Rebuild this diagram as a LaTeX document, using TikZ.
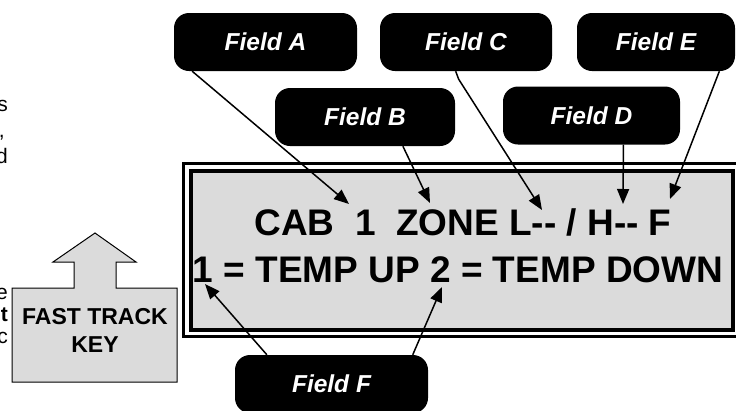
\documentclass[tikz,border=0pt]{standalone}
\usepackage{fontspec}
\setmainfont{Liberation Sans}
\usetikzlibrary{arrows.meta,calc}

\tikzset{
  field/.style={fill=black, rounded corners=15pt, text=white, minimum height=58pt,
    inner sep=0pt, font=\fontsize{24.5}{24.5}\selectfont\bfseries\itshape},
  lcdtext/.style={anchor=base, inner sep=0pt, font=\fontsize{37}{37}\selectfont\bfseries},
  frag/.style={anchor=base east, inner sep=0pt, font=\fontsize{21}{21}\selectfont},
  ptr/.style={-{Triangle[length=15pt,width=12pt]}, line width=1.5pt},
}

\begin{document}
\begin{tikzpicture}[x=1pt, y=-1pt]
    \useasboundingbox (0,0) rectangle (736,410);
    \clip (0,0) rectangle (736,410);

    % 左侧残留文字
    \node[frag] (s1) at (8,111) {s};
    \node[frag] (s2) at (5,137) {,};
    \node[frag] (s3) at (8,163) {d};
    \node[frag] (s4) at (8,299) {e};
    \node[frag, font=\fontsize{21}{21}\selectfont\bfseries] (s5) at (8,321) {t};
    \node[frag] (s6) at (8,343) {c};

    % 显示屏
    \draw[line width=3pt] (183,163) rectangle (742,336);
    \draw[line width=4pt, fill=black!14] (191,171) rectangle (733,330);
    \node[lcdtext] (line1) at (463,235) {CAB\ \ 1\ \ ZONE L-{}- / H-{}- F};
    \node[lcdtext] (line2) at (458,282) {1 = TEMP UP 2 = TEMP DOWN};

    % 快速键
    \draw[fill=black!14, line width=1pt] (12,382) -- (12,288) -- (74,288) -- (74,262)
        -- (53,262) -- (95,233) -- (136,262) -- (116,262) -- (116,288) -- (177,288)
        -- (177,382) -- cycle;
    \node[align=center, inner sep=0pt, font=\fontsize{23}{28}\selectfont\bfseries] (key) at (95,330) {FAST TRACK\\KEY};

    % 标注框
    \node[field, minimum width=183pt] (fa) at (265.5,42) {Field A};
    \node[field, minimum width=180pt] (fb) at (365,117) {Field B};
    \node[field, minimum width=172pt] (fc) at (466,42) {Field C};
    \node[field, minimum width=177pt] (fd) at (591.5,115.5) {Field D};
    \node[field, minimum width=158pt] (fe) at (656,42) {Field E};
    \node[field, minimum width=193pt] (ff) at (331.5,384) {Field F};

    % 箭头终点
    \coordinate (ta) at (349,204);
    \coordinate (tb) at (430,203);
    \coordinate (tc) at (542,210);
    \coordinate (td) at (623,204);
    \coordinate (te) at (670,199);
    \coordinate (tf1) at (205,284);
    \coordinate (tf2) at (442,287);

    % 绘制箭头
    \draw[ptr] ($(fa.south west)!0.1!(fa.south east)$) -- (ta);
    \draw[ptr] ($(fb.south west)!0.71!(fb.south east)$) -- (tb);
    \draw[ptr] ($(fc.south west)!0.44!(fc.south east)$) -- ++(3,8) -- (tc);
    \draw[ptr] ($(fd.south west)!0.68!(fd.south east)$) -- (td);
    \draw[ptr] ($(fe.south west)!0.9!(fe.south east)$) -- (te);
    \draw[ptr] ($(ff.north west)!0.166!(ff.north east)$) -- (tf1);
    \draw[ptr] ($(ff.north west)!0.92!(ff.north east)$) -- (tf2);
\end{tikzpicture}
\end{document}
